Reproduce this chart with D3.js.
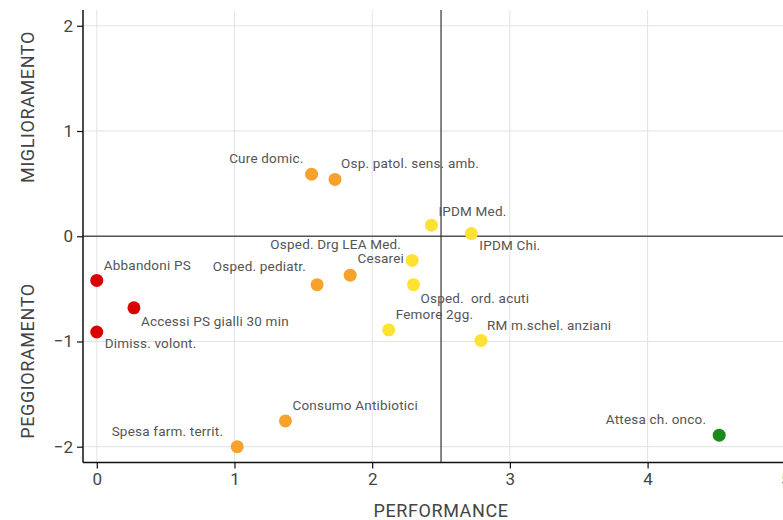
<!DOCTYPE html>
<html><head><meta charset="utf-8">
<script src="https://cdn.jsdelivr.net/npm/d3@7"></script>
<style>
html,body{margin:0;padding:0;background:#fff;overflow:hidden;}
svg{display:block;font-family:Roboto, "DejaVu Sans", sans-serif;}
</style></head>
<body><svg id="c" width="783" height="520"></svg>
<script>
// Data
const labels = ["Abbandoni PS","Accessi PS gialli 30 min","Dimiss. volont.","Cure domic.","Osp. patol. sens. amb.","IPDM Med.","IPDM Chi.","Osped. Drg LEA Med.","Cesarei","Osped. pediatr.","Osped.  ord. acuti","Femore 2gg.","RM m.schel. anziani","Consumo Antibiotici","Spesa farm. territ.","Attesa ch. onco."];
const performance = [0, 0.27, 0, 1.56, 1.73, 2.43, 2.72, 1.84, 2.29, 1.60, 2.30, 2.12, 2.79, 1.37, 1.02, 4.52];
const trend = [-0.42, -0.68, -0.91, 0.59, 0.54, 0.105, 0.025, -0.37, -0.23, -0.46, -0.46, -0.89, -0.99, -1.755, -2.00, -1.89];
const classes = ["red","red","red","orange","orange","yellow","yellow","orange","yellow","orange","yellow","yellow","yellow","orange","orange","green"];
const xTicks = [0,1,2,3,4,5];
const yTicks = [-2,-1,0,1,2];
const xRef = 2.5, yRef = 0;

// Layout (label offsets in px, anchor)
const labelLayout = [
  [7,-15,"start"],[7,13,"start"],[8,11,"start"],[-8,-16,"end"],[6,-16,"start"],
  [7,-14,"start"],[8,12,"start"],[51,-31,"end"],[-8,-2,"end"],[-11,-18,"end"],
  [7,14,"start"],[7,-16,"start"],[6,-15,"start"],[7,-16,"start"],[-14,-15,"end"],[-13,-16,"end"]
];
const colors = {red:"#db0000", orange:"#f7a22c", yellow:"#fde232", green:"#1b8a1b"};

const svg = d3.select("#c");
const x = d3.scaleLinear().domain([-0.1, 5]).range([83, 785.3]);
const y = d3.scaleLinear().domain([-2.15, 2.15]).range([462.5, 10]);

// grid
svg.append("g").selectAll("line").data(xTicks).join("line")
  .attr("x1", d=>x(d)).attr("x2", d=>x(d)).attr("y1", 10).attr("y2", 462.5)
  .attr("stroke", "#e3e3e3").attr("stroke-width", 1);
svg.append("g").selectAll("line").data(yTicks).join("line")
  .attr("x1", 83).attr("x2", 783).attr("y1", d=>y(d)).attr("y2", d=>y(d))
  .attr("stroke", "#e3e3e3").attr("stroke-width", 1);

// reference lines
svg.append("line").attr("x1", 83).attr("x2", 783).attr("y1", y(yRef)).attr("y2", y(yRef))
  .attr("stroke", "#555").attr("stroke-width", 1.5);
svg.append("line").attr("x1", x(xRef)).attr("x2", x(xRef)).attr("y1", 10).attr("y2", 462.5)
  .attr("stroke", "#333").attr("stroke-width", 1.2);

// axes
const xa = svg.append("g").attr("transform", "translate(0,462.5)")
  .call(d3.axisBottom(x).tickValues(xTicks).tickSize(6).tickPadding(4).tickFormat(d3.format("d")));
const ya = svg.append("g").attr("transform", "translate(83,0)")
  .call(d3.axisLeft(y).tickValues(yTicks).tickSize(6).tickPadding(4).tickFormat(d3.format("d")));
[xa, ya].forEach(a => {
  a.select(".domain").attr("stroke", "#111").attr("stroke-width", 1.5);
  a.selectAll(".tick line").attr("stroke", "#111").attr("stroke-width", 1.2);
  a.selectAll(".tick text").attr("fill", "#444").attr("font-size", 17).attr("font-family", "Roboto, sans-serif");
});
xa.select(".domain").attr("d", "M83,0H783");
ya.select(".domain").attr("d", "M0,10V462.5");

// axis titles
const titleStyle = t => t.attr("font-size", 18).attr("letter-spacing", 0.6).attr("fill", "#444").attr("text-anchor", "middle");
svg.append("text").attr("x", 441).attr("y", 517).call(titleStyle).text("PERFORMANCE");
svg.append("text").attr("transform", "translate(34,107) rotate(-90)").call(titleStyle).text("MIGLIORAMENTO");
svg.append("text").attr("transform", "translate(34,361) rotate(-90)").call(titleStyle).text("PEGGIORAMENTO");

// points
const idx = d3.range(labels.length);
svg.append("g").selectAll("circle").data(idx).join("circle")
  .attr("cx", i=>x(performance[i])).attr("cy", i=>y(trend[i])).attr("r", 6.5)
  .attr("fill", i=>colors[classes[i]]);

// labels
svg.append("g").selectAll("text").data(idx).join("text")
  .attr("x", i=>x(performance[i]) + labelLayout[i][0])
  .attr("y", i=>y(trend[i]) + labelLayout[i][1])
  .attr("dy", "0.35em")
  .attr("text-anchor", i=>labelLayout[i][2])
  .attr("font-size", 13.5).attr("letter-spacing", 0.2).attr("fill", "#555")
  .style("white-space", "pre")
  .text(i=>labels[i]);
</script></body></html>
